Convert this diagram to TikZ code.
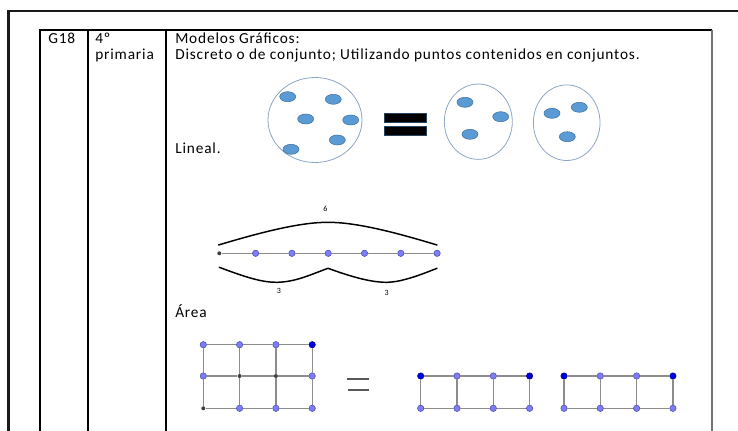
\documentclass[tikz,border=0pt]{standalone}
\usepackage{fontspec}
\setmainfont{Carlito}[LetterSpace=5.5]
\usetikzlibrary{shapes.geometric}
\definecolor{cframe}{HTML}{1A1A1A}
\definecolor{cset}{HTML}{8DA5C4}
\definecolor{cdot}{HTML}{5B9BD5}
\definecolor{cdotd}{HTML}{41719C}
\definecolor{cpt}{HTML}{7D7DF4}
\definecolor{cptd}{HTML}{4B4BB4}
\definecolor{cptx}{HTML}{0000E6}
\definecolor{cedge}{HTML}{8C8C8C}

\begin{document}
\begin{tikzpicture}[
  x=0.75pt, y=-0.75pt,
  font=\fontsize{11.5}{12}\selectfont,
  txt/.style={anchor=base west, inner sep=0pt, align=left},
  set/.style={ellipse, draw=cset, line width=0.6pt, inner sep=0pt},
  dot/.style={ellipse, fill=cdot, draw=cdotd, line width=0.4pt, inner sep=0pt,
              minimum width=12pt, minimum height=7.5pt},
  bar/.style={fill=black, draw=cdotd!60!black, line width=0.5pt},
  vl/.style={circle, fill=cpt, draw=cptd, line width=0.4pt, inner sep=0pt, minimum size=4.8pt},
  vd/.style={vl, fill=cptx, draw=cptx!60!black},
  vb/.style={circle, fill=black!75, inner sep=0pt, minimum size=3pt},
  edge/.style={draw=cedge, line width=1pt},
  brace/.style={line width=1.1pt, line cap=round},
  num/.style={font=\fontsize{6}{7}\selectfont, inner sep=0pt},
]
\useasboundingbox (0,0) rectangle (738,431);

% ------------------------------------------------------------ frame and table
\draw[cframe, line width=1.8pt] (738,11) -- (8.5,11) -- (8.5,431);
\draw[line width=0.8pt] (40,431) -- (40,30) -- (712,30);
\draw[line width=0.8pt] (88,30) -- (88,431);
\draw[line width=0.8pt] (166,30) -- (166,431);
\draw[black!55, line width=1pt] (712,30) -- (712,431);

% multi-line cells sit on the baseline of their last line
\node[txt] (code) at (48,44) {G18};
\node[txt] (grade) at (95,60) {4º\\primaria};
\node[txt] (title) at (175,60) {Modelos Gráficos:\\Discreto o de conjunto; Utilizando puntos contenidos en conjuntos.};

% ------------------------------------------------------------ sets
\node[txt] (lineal) at (175,153) {Lineal.};
\node[set, minimum width=70.5pt, minimum height=63.75pt] (whole) at (315,120) {};
\node[set, minimum width=51pt, minimum height=56.5pt] (partA) at (478.3,121.7) {};
\node[set, minimum width=50pt, minimum height=56.7pt] (partB) at (566.7,122.7) {};
\foreach \x/\y [count=\i] in {287.7/96.7, 333.3/99.3, 305.7/119, 350.7/120, 337.3/140, 291/149.3}
  \node[dot] (w\i) at (\x,\y) {};
\foreach \x/\y [count=\i] in {465/102.3, 500.7/116.7, 470/134.3}
  \node[dot] (a\i) at (\x,\y) {};
\foreach \x/\y [count=\i] in {552/113.3, 579.3/107.3, 567.3/136.7}
  \node[dot] (b\i) at (\x,\y) {};
\draw[bar] (384,113.3) rectangle (426,122.3);
\draw[bar] (384,126) rectangle (426,135);

% ------------------------------------------------------------ number line
\foreach \s [count=\i] in {vb,vl,vl,vl,vl,vl,vl}
  \node[\s] (n\i) at ({219.3+36.3*(\i-1)},253.3) {};
\foreach \i/\j in {1/2,2/3,3/4,4/5,5/6,6/7}
  \draw[edge, line width=0.8pt] (n\i) -- (n\j);
\coordinate (u1) at (218.5,245);
\coordinate (u2) at (328,222.3);
\coordinate (u3) at (437,245);
\draw[brace] (u1) .. controls (262,232) and (300,222.3) .. (u2)
  .. controls (356,222.3) and (394,232) .. (u3);
\node[num] (six) at (325.3,209.3) {6};
\coordinate (l1) at (219.3,267.3);
\coordinate (l2) at (328,268.3);
\coordinate (l3) at (437,268.3);
\draw[brace] (l1) .. controls (245,277) and (262,282.5) .. (277,282.3)
  .. controls (296,282) and (312,274) .. (l2)
  .. controls (344,274) and (368,282.5) .. (387,282.3)
  .. controls (402,282) and (420,275) .. (l3);
\node[num] (threeA) at (279,291) {3};
\node[num] (threeB) at (386.7,293.3) {3};

% ------------------------------------------------------------ area
\node[txt] (area) at (175,317) {Área};
\foreach \s [count=\i] in {vl,vl,vl,vd}
  \node[\s] (q1\i) at ({203.3+36.3*(\i-1)},344.7) {};
\foreach \s [count=\i] in {vl,vb,vb,vl}
  \node[\s] (q2\i) at ({203.3+36.3*(\i-1)},376) {};
\foreach \s [count=\i] in {vb,vl,vl,vl}
  \node[\s] (q3\i) at ({203.3+36.3*(\i-1)},408.3) {};
\foreach \r in {1,2,3}
  \foreach \i/\j in {1/2,2/3,3/4}
    \draw[edge] (q\r\i) -- (q\r\j);
\foreach \i in {1,...,4} {
  \draw[edge] (q1\i) -- (q2\i);
  \draw[edge] (q2\i) -- (q3\i);
}
\draw[black!65, line width=1.4pt] (346.7,379.3) -- (369.3,379.3);
\draw[black!65, line width=1.4pt] (347.5,390) -- (369.3,390);
\foreach \g/\x in {p/420.7, s/564} {
  \foreach \s [count=\i] in {vd,vl,vl,vd}
    \node[\s] (\g1\i) at ({\x+36.3*(\i-1)},376) {};
  \foreach \i in {1,...,4}
    \node[vl] (\g2\i) at ({\x+36.3*(\i-1)},408.3) {};
  \foreach \r in {1,2}
    \foreach \i/\j in {1/2,2/3,3/4}
      \draw[edge] (\g\r\i) -- (\g\r\j);
  \foreach \i in {1,...,4}
    \draw[edge] (\g1\i) -- (\g2\i);
}
\end{tikzpicture}
\end{document}
